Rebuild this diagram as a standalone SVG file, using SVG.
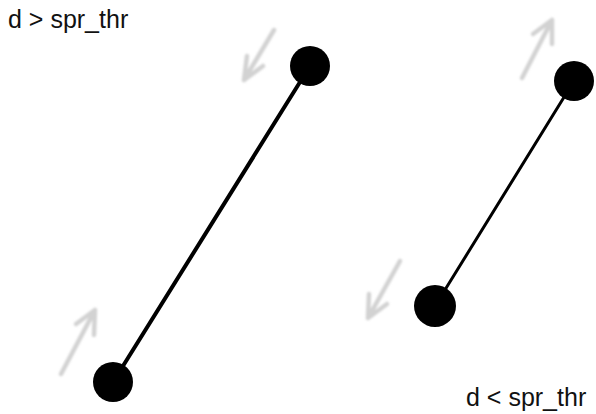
<svg xmlns="http://www.w3.org/2000/svg" width="596" height="414" viewBox="0 0 596 414">
<style>
.lbl{font-family:"Liberation Sans",Arial,sans-serif;font-size:25px;fill:#111}
.bar{stroke:#000;stroke-linecap:round}
.node{fill:#000}
.mv{fill:none;stroke:#d2d2d2;stroke-width:4.5;stroke-linecap:round;stroke-linejoin:round}
</style>
<defs>
<filter id="soft" x="-20%" y="-20%" width="140%" height="140%"><feGaussianBlur stdDeviation="0.8"/></filter>
</defs>
<rect width="596" height="414" fill="#fff"/>
<g id="connectors">
<line class="bar" x1="310" y1="66" x2="113" y2="382" stroke-width="4"/>
<line class="bar" x1="574" y1="81" x2="435" y2="306" stroke-width="3"/>
<g filter="url(#soft)">
<path class="mv" d="M274 30 L244 80 M244 80 L247 56 M244 80 L263 66"/>
<path class="mv" d="M61 374 L95 310 M95 310 L76 324 M95 310 L94 335"/>
<path class="mv" d="M400 261 L368 318 M368 318 L369 294 M368 318 L387 304"/>
<path class="mv" d="M522 78 L552 20 M552 20 L533 34 M552 20 L552 44"/>
</g>
</g>
<g id="node-left-top"><circle class="node" cx="310" cy="66" r="20"/></g>
<g id="node-left-bottom"><circle class="node" cx="113" cy="382" r="20"/></g>
<g id="node-right-top"><circle class="node" cx="574" cy="81" r="20"/></g>
<g id="node-right-bottom"><circle class="node" cx="435" cy="306" r="21"/></g>
<g id="label-top"><text class="lbl" x="8" y="28">d &gt; spr_thr</text></g>
<g id="label-bottom"><text class="lbl" x="466" y="406">d &lt; spr_thr</text></g>
</svg>
